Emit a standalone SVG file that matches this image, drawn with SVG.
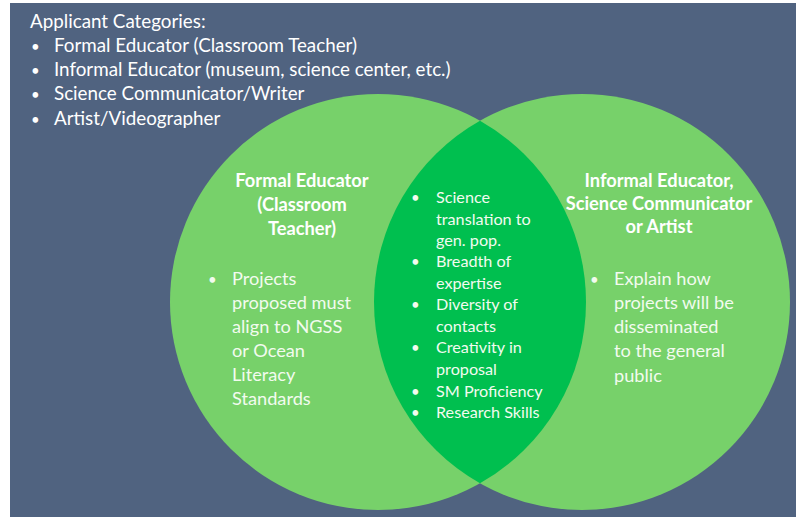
<svg xmlns="http://www.w3.org/2000/svg" width="796" height="519" viewBox="0 0 796 519">
<style>
text{font-family:Lato,"Open Sans","Liberation Sans",sans-serif;fill:#ffffff;}
.hd{font-size:18.8px;}
.h{font-size:18.3px;font-weight:bold;text-anchor:middle;}
.b{font-size:18.2px;fill:#f2fbef;}
.c{font-size:16.2px;fill:#f2fbef;}
.dot{font-size:15px;}
.circle{fill:#77d16a;}
.lens{fill:#00bf4f;}
</style>
<rect x="0" y="0" width="796" height="519" fill="#ffffff"/>
<rect id="background" x="10" y="3" width="786" height="514" fill="#506380"/>
<g id="categories">
<text class="hd" x="30" y="28">Applicant Categories:</text>
<text class="hd dot" x="31" y="52">•</text><text class="hd" x="54" y="52">Formal Educator (Classroom Teacher)</text>
<text class="hd dot" x="31" y="76">•</text><text class="hd" x="54" y="76">Informal Educator (museum, science center, etc.)</text>
<text class="hd dot" x="31" y="100">•</text><text class="hd" x="54" y="100">Science Communicator/Writer</text>
<text class="hd dot" x="31" y="125">•</text><text class="hd" x="54" y="125">Artist/Videographer</text>
</g>
<g id="formal-educator">
<circle class="circle" cx="378" cy="302" r="208"/>
</g>
<g id="informal-educator">
<circle class="circle" cx="582" cy="302" r="208"/>
</g>
<g id="overlap">
<path class="lens" d="M480,120.73 A208,208 0 0 1 480,483.27 A208,208 0 0 1 480,120.73 Z"/>
</g>
<g id="formal-educator-text">
<text class="h" x="302" y="187">Formal Educator</text>
<text class="h" x="302" y="211">(Classroom</text>
<text class="h" x="302" y="235">Teacher)</text>
<text class="b dot" x="208" y="285">•</text>
<text class="b" x="232" y="285">Projects</text>
<text class="b" x="232" y="309">proposed must</text>
<text class="b" x="232" y="333">align to NGSS</text>
<text class="b" x="232" y="357">or Ocean</text>
<text class="b" x="232" y="381">Literacy</text>
<text class="b" x="232" y="405">Standards</text>
</g>
<g id="overlap-text">
<text class="c dot" x="411" y="203">•</text><text class="c" x="436" y="203">Science</text>
<text class="c" x="436" y="225">translation to</text>
<text class="c" x="436" y="246">gen. pop.</text>
<text class="c dot" x="411" y="267">•</text><text class="c" x="436" y="267">Breadth of</text>
<text class="c" x="436" y="289">expertise</text>
<text class="c dot" x="411" y="310">•</text><text class="c" x="436" y="310">Diversity of</text>
<text class="c" x="436" y="332">contacts</text>
<text class="c dot" x="411" y="353">•</text><text class="c" x="436" y="353">Creativity in</text>
<text class="c" x="436" y="375">proposal</text>
<text class="c dot" x="411" y="397">•</text><text class="c" x="436" y="397">SM Proficiency</text>
<text class="c dot" x="411" y="418">•</text><text class="c" x="436" y="418">Research Skills</text>
</g>
<g id="informal-educator-text">
<text class="h" x="659" y="187">Informal Educator,</text>
<text class="h" x="659" y="210">Science Communicator</text>
<text class="h" x="659" y="233">or Artist</text>
<text class="b dot" x="590" y="285">•</text>
<text class="b" x="614" y="285">Explain how</text>
<text class="b" x="614" y="309">projects will be</text>
<text class="b" x="614" y="333">disseminated</text>
<text class="b" x="614" y="357">to the general</text>
<text class="b" x="614" y="382">public</text>
</g>
</svg>
